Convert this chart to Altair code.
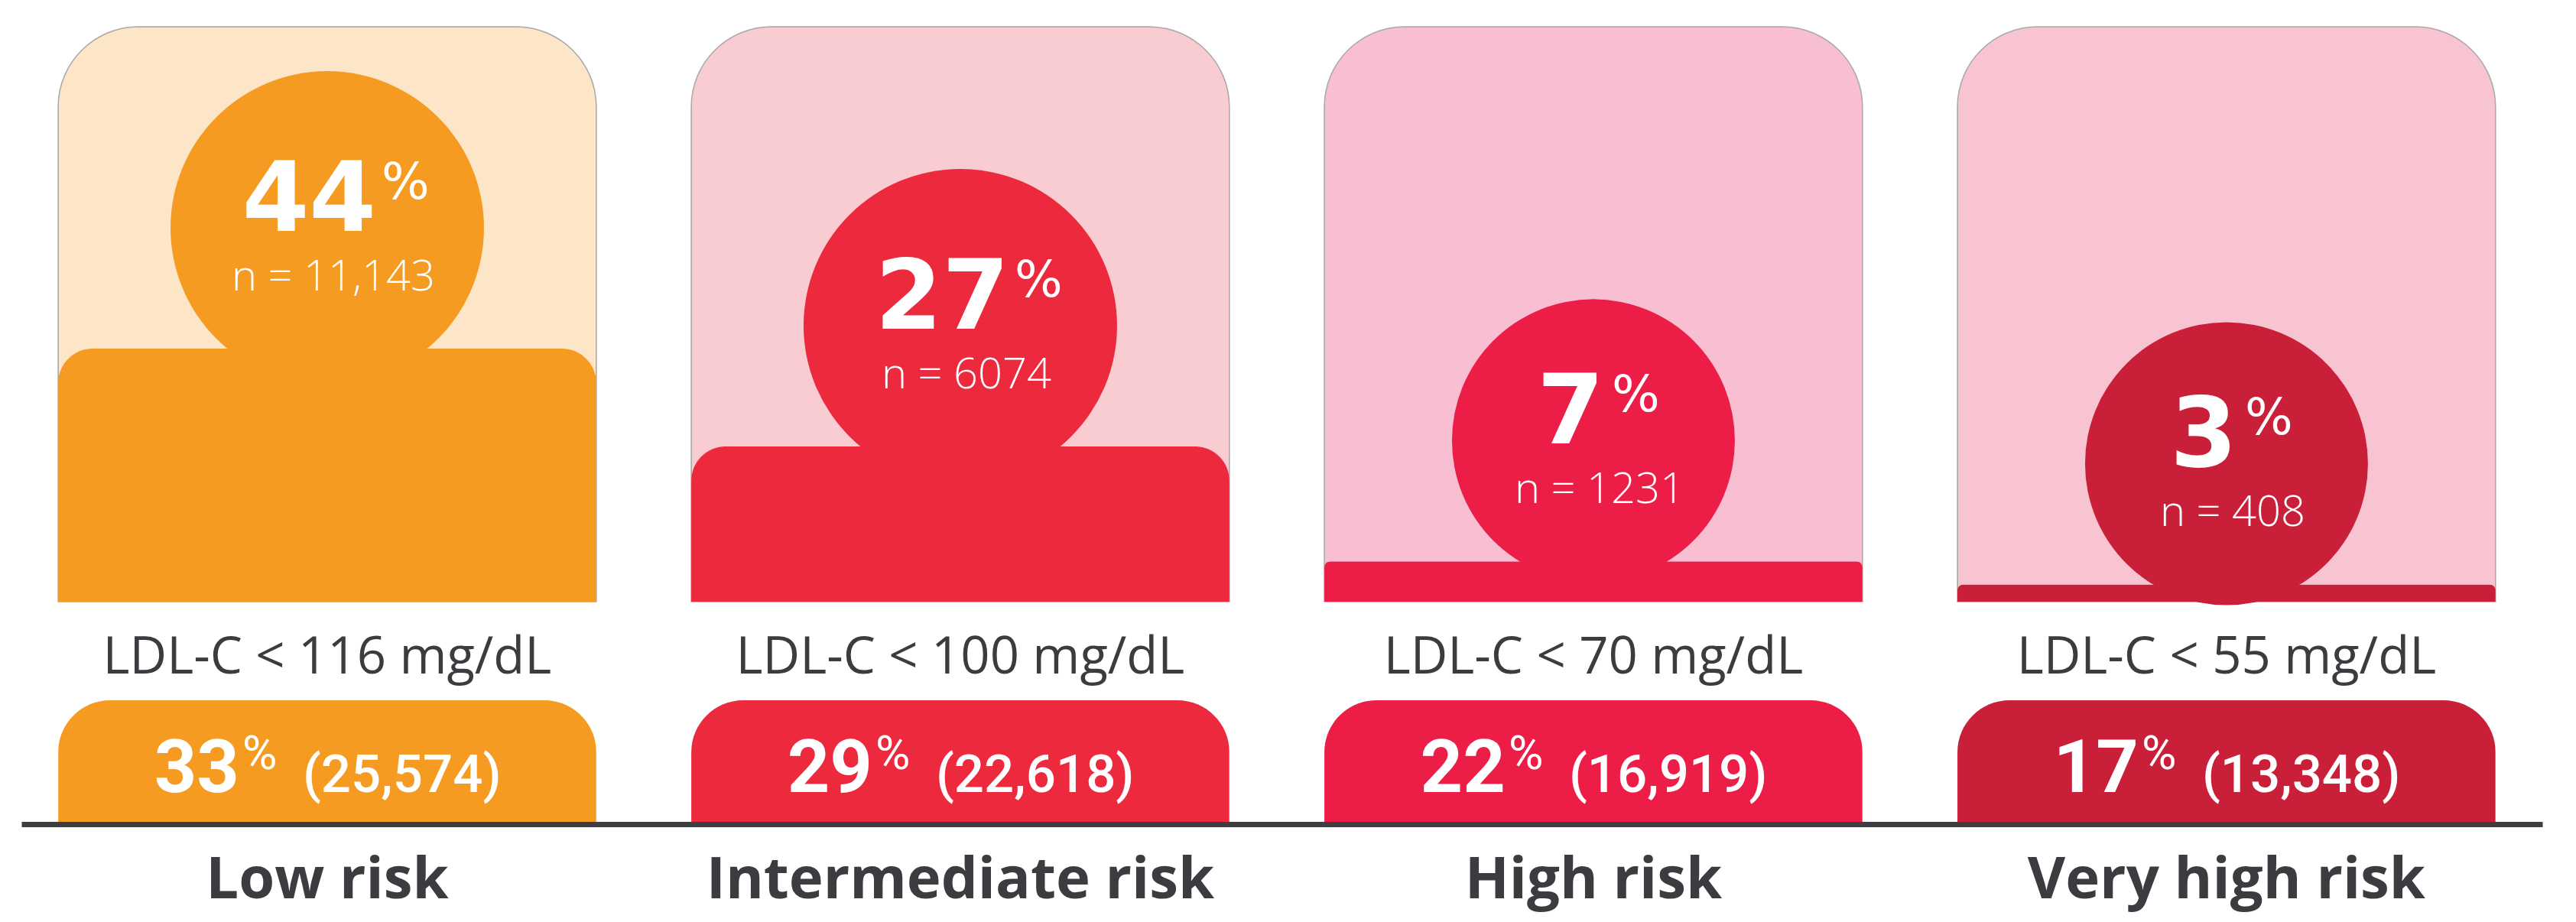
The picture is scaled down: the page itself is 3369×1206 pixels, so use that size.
import altair as alt
import pandas as pd

# ---------------- data ----------------
categories = ["Low risk", "Intermediate risk", "High risk", "Very high risk"]
ldl_targets = [116, 100, 70, 55]          # LDL-C goal, mg/dL
at_goal_pct = [44, 27, 7, 3]              # % at LDL-C goal
at_goal_n = [11143, 6074, 1231, 408]      # n at goal
group_pct = [33, 29, 22, 17]              # share of cohort in risk group
group_n = [25574, 22618, 16919, 13348]    # patients in risk group

# ---------------- styles ----------------
LIGHT = ["#FCE6C7", "#F9CCD1", "#F8BED1", "#F9C4D2"]
DARK = ["#F59B22", "#EC293D", "#EC1E47", "#C91F39"]
TEXT_DARK = "#3b3b40"
W = 3340

df = pd.DataFrame({
    "category": categories,
    "ldl": ldl_targets,
    "pct": at_goal_pct,
    "n": at_goal_n,
    "gpct": group_pct,
    "gn": group_n,
})
df["full"] = 100
df["one"] = 1
df["pct_label"] = df["pct"].astype(str)
df["n_label"] = [f"n = {v:,}" if v >= 10000 else f"n = {v}" for v in at_goal_n]
df["ldl_label"] = [f"LDL-C < {t} mg/dL" for t in ldl_targets]
df["gpct_label"] = df["gpct"].astype(str)
df["gn_label"] = [f"({v:,})" for v in group_n]

xscale = alt.Scale(type="band", domain=categories, range=[20, 3317], paddingInner=0.15,
                   paddingOuter=0.066, align=0.44)
x_noaxis = alt.X("category:N", scale=xscale, axis=None, sort=categories)
light_fill = alt.Fill("category:N", scale=alt.Scale(domain=categories, range=LIGHT), legend=None)
dark_color = alt.Color("category:N", scale=alt.Scale(domain=categories, range=DARK), legend=None)
yscale = alt.Scale(domain=[0, 100], nice=False, zero=True)
y_pct = alt.Y("pct:Q", scale=yscale, axis=None)

base = alt.Chart(df)

# ---------------- upper panels ----------------
box = base.mark_bar(cornerRadiusTopLeft=105, cornerRadiusTopRight=105,
                    stroke="#a9a9a9", strokeWidth=1.5).encode(
    x=x_noaxis, y=alt.Y("full:Q", scale=yscale, axis=None), fill=light_fill)

fill_big = base.transform_filter("datum.pct >= 20").mark_bar(
    cornerRadiusTopLeft=45, cornerRadiusTopRight=45).encode(x=x_noaxis, y=y_pct, color=dark_color)
fill_small = base.transform_filter("datum.pct < 20").mark_bar(
    cornerRadiusTopLeft=8, cornerRadiusTopRight=8).encode(x=x_noaxis, y=y_pct, color=dark_color)

circ_big = base.transform_filter("datum.pct >= 20").mark_circle(
    size=168100, opacity=1, yOffset=-158).encode(x=x_noaxis, y=y_pct, color=dark_color)
circ_small = base.transform_filter("datum.pct < 20").mark_circle(
    size=136900, opacity=1, yOffset=-158).encode(x=x_noaxis, y=y_pct, color=dark_color)

num_kw = dict(baseline="alphabetic", font="DejaVu Sans", fontWeight="bold",
              fontSize=126, color="white", dy=-154)
pc_kw = dict(baseline="alphabetic", font="DejaVu Sans", fontWeight="normal",
             fontSize=66, color="white", dy=-196, align="left")

num2 = base.transform_filter("datum.pct >= 10").mark_text(align="right", dx=64, **num_kw).encode(
    x=x_noaxis, y=y_pct, text="pct_label:N")
pc2 = base.transform_filter("datum.pct >= 10").mark_text(dx=71, **pc_kw).encode(
    x=x_noaxis, y=y_pct, text=alt.value("%"))
num1 = base.transform_filter("datum.pct < 10").mark_text(align="right", dx=14, **num_kw).encode(
    x=x_noaxis, y=y_pct, text="pct_label:N")
pc1 = base.transform_filter("datum.pct < 10").mark_text(dx=24, **pc_kw).encode(
    x=x_noaxis, y=y_pct, text=alt.value("%"))
nlab = base.mark_text(align="center", baseline="alphabetic", font="Open Sans", fontWeight=300,
                      fontSize=56, color="white", dx=8, dy=-76).encode(
    x=x_noaxis, y=y_pct, text="n_label:N")

upper = alt.layer(box, fill_big, fill_small, circ_big, circ_small,
                  num2, pc2, num1, pc1, nlab).properties(width=W, height=752)

# ---------------- LDL goal row ----------------
ldl_row = base.mark_text(align="center", baseline="alphabetic", font="Open Sans",
                         fontSize=67, color=TEXT_DARK, dy=27).encode(
    x=x_noaxis, text="ldl_label:N").properties(width=W, height=124)

# ---------------- bottom boxes ----------------
x_axis = alt.X("category:N", scale=xscale, sort=categories,
               axis=alt.Axis(title=None, ticks=False, domainWidth=7, domainColor="#3d3d42",
                             labelFont="Open Sans", labelFontWeight="bold", labelFontSize=76,
                             labelColor=TEXT_DARK, labelPadding=36, labelAngle=0,
                             labelLimit=0, zindex=1))
bot_box = base.mark_bar(cornerRadiusTopLeft=68, cornerRadiusTopRight=68).encode(
    x=x_axis, y=alt.Y("one:Q", scale=alt.Scale(domain=[0, 1], nice=False), axis=None),
    color=dark_color)
g_num = base.mark_text(align="right", baseline="alphabetic", font="Roboto", fontWeight="bold",
                       fontSize=97, color="white", dx=-115, dy=39).encode(
    x=x_axis, text="gpct_label:N")
g_pc = base.mark_text(align="left", baseline="alphabetic", font="Roboto",
                      fontSize=62, color="white", dx=-111, dy=9).encode(
    x=x_axis, text=alt.value("%"))
g_n = base.mark_text(align="left", baseline="alphabetic", font="Roboto", fontWeight=500,
                     fontSize=69, color="white", dx=-32, dy=39).encode(
    x=x_axis, text="gn_label:N")
bottom = alt.layer(bot_box, g_num, g_pc, g_n).properties(width=W, height=162)

chart = alt.vconcat(upper, ldl_row, bottom, spacing=0).properties(
    padding={"left": 0, "top": 26, "right": 0, "bottom": 20},
    background="white",
).configure_view(strokeWidth=0)

chart.save("out.html", embed_options={"renderer": "svg", "actions": False})
